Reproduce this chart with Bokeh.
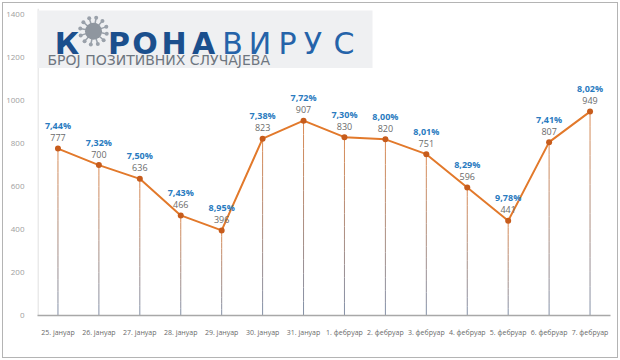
from bokeh.plotting import figure
from bokeh.models import Range1d, FixedTicker
from bokeh.core.properties import value
from bokeh.embed import file_html
from bokeh.resources import INLINE
import math

# ---------------- data ----------------
dates = ["25. јануар", "26. јануар", "27. јануар", "28. јануар", "29. јануар",
         "30. јануар", "31. јануар", "1. фебруар", "2. фебруар", "3. фебруар",
         "4. фебруар", "5. фебруар", "6. фебруар", "7. фебруар"]
cases = [777, 700, 636, 466, 396, 823, 907, 830, 820, 751, 596, 441, 807, 949]
share = ["7,44%", "7,32%", "7,50%", "7,43%", "8,95%", "7,38%", "7,72%",
         "7,30%", "8,00%", "8,01%", "8,29%", "9,78%", "7,41%", "8,02%"]
y_ticks = [0, 200, 400, 600, 800, 1000, 1200, 1400]

title_bold = "КОРОНА"
title_light = "ВИРУС"
subtitle = "БРОЈ ПОЗИТИВНИХ СЛУЧАЈЕВА"

# category slots (one unit each, centred)
xs = [i + 0.5 for i in range(len(dates))]

# ---------------- figure ----------------
p = figure(width=614, height=354,
           x_range=Range1d(0, len(dates)),
           y_range=Range1d(0, 1429),
           output_backend="svg", toolbar_location=None,
           min_border_left=32, min_border_right=9,
           min_border_top=5, min_border_bottom=44)
p.styles = {"position": "absolute", "left": "2px", "top": "2px",
            "border": "1px solid #b4b4b4", "box-sizing": "content-box"}
p.outline_line_color = None
p.xgrid.visible = False
p.ygrid.visible = False
p.background_fill_color = "white"
p.border_fill_color = "white"

# pixel helper ranges (image pixel coordinates) for the logo
p.extra_x_ranges = {"px": Range1d(35, 608)}
p.extra_y_ranges = {"py": Range1d(313, 8)}

# axes
p.yaxis.ticker = FixedTicker(ticks=y_ticks)
p.yaxis.axis_line_color = None
p.yaxis.major_tick_line_color = None
p.yaxis.minor_tick_line_color = None
p.yaxis.major_label_text_font = "Open Sans"
p.yaxis.major_label_text_font_size = "8px"
p.yaxis.major_label_text_color = "#a0a0a0"
p.yaxis.major_label_standoff = 7

p.xaxis.ticker = FixedTicker(ticks=xs)
p.xaxis.major_label_overrides = {x: d for x, d in zip(xs, dates)}
p.xaxis.axis_line_color = "#a8a8a8"
p.xaxis.axis_line_width = 1.5
p.xaxis.major_tick_line_color = None
p.xaxis.minor_tick_line_color = None
p.xaxis.major_label_text_font = "Open Sans"
p.xaxis.major_label_text_font_size = "7px"
p.xaxis.major_label_text_color = "#6a6a6a"
p.xaxis.major_label_standoff = 6

# faint vertical axis line
p.segment(x0=[35.5], y0=[8], x1=[35.5], y1=[313], line_color="#d6d6d6",
          line_width=1, x_range_name="px", y_range_name="py")

# ---------------- logo ----------------
p.quad(left=[35], right=[370], top=[10], bottom=[67], fill_color="#eff0f2",
       line_color=None, x_range_name="px", y_range_name="py")

bold_x = [64.5, None, 116.5, 142.5, 171.5, 201]
light_x = [230, 257.5, 285, 310.5, 341.5]
bx, bt = [], []
for ch, xx in zip(title_bold, bold_x):
    if xx is None:
        continue
    bx.append(xx)
    bt.append(ch)
p.text(x=bx, y=[43] * len(bx), text=bt, text_font=value("DejaVu Sans"),
       text_font_style="bold", text_font_size="30px", text_color="#1b4f8d",
       text_align="center", text_baseline="alphabetic",
       x_range_name="px", y_range_name="py")
p.text(x=light_x, y=[43] * len(light_x), text=list(title_light),
       text_font=value("DejaVu Sans"), text_font_size="30px",
       text_color="#2563a9", text_align="center", text_baseline="alphabetic",
       x_range_name="px", y_range_name="py")

# virus icon in place of the first "О"
cx, cy = 91, 30.5
sx0, sy0, sx1, sy1, dx, dy = [], [], [], [], [], []
for k in range(12):
    a = 2 * math.pi * k / 12 + 0.2
    sx0.append(cx + 7 * math.cos(a)); sy0.append(cy + 7 * math.sin(a))
    sx1.append(cx + 12.5 * math.cos(a)); sy1.append(cy + 12.5 * math.sin(a))
    dx.append(cx + 13.5 * math.cos(a)); dy.append(cy + 13.5 * math.sin(a))
p.segment(x0=sx0, y0=sy0, x1=sx1, y1=sy1, line_color="#9aa1aa", line_width=1.5,
          x_range_name="px", y_range_name="py")
p.scatter(x=dx, y=dy, size=4, fill_color="#9aa1aa", line_color=None,
          x_range_name="px", y_range_name="py")
p.scatter(x=[cx], y=[cy], size=17, fill_color="#8f969f", line_color=None,
          x_range_name="px", y_range_name="py")

p.text(x=[45], y=[59], text=[subtitle], text_font=value("DejaVu Sans"),
       text_font_size="14px", text_color="#6e7680", text_align="left",
       text_baseline="alphabetic", x_range_name="px", y_range_name="py")

# ---------------- drop lines (gradient) ----------------
def mix(c1, c2, t):
    a = [int(c1[i:i + 2], 16) for i in (1, 3, 5)]
    b = [int(c2[i:i + 2], 16) for i in (1, 3, 5)]
    return "#%02x%02x%02x" % tuple(round(a[j] + (b[j] - a[j]) * t) for j in range(3))

N = 14
gx, gy0, gy1, gc = [], [], [], []
for xx, v in zip(xs, cases):
    for k in range(N):
        gx.append(xx)
        gy0.append(v * (1 - k / N))
        gy1.append(v * (1 - (k + 1) / N))
        gc.append(mix("#dc8a52", "#8290a8", (k + 0.5) / N))
p.segment(x0=gx, y0=gy0, x1=gx, y1=gy1, line_color=gc, line_width=1)

# ---------------- line + markers ----------------
p.line(x=xs, y=cases, line_color="#e2792b", line_width=2)
p.scatter(x=xs, y=cases, size=6, fill_color="#c75c1c", line_color=None)

# ---------------- data labels ----------------
p.text(x=xs, y=cases, text=[str(c) for c in cases], y_offset=-11,
       text_font=value("Open Sans"), text_font_size="9px",
       text_color="#6b6b6b", text_align="center", text_baseline="middle")
p.text(x=xs, y=cases, text=share, y_offset=-23,
       text_font=value("Open Sans"), text_font_style="bold",
       text_font_size="9px", text_color="#2a7bbf",
       text_align="center", text_baseline="middle")

open("out.html", "w").write(file_html(p, INLINE))
